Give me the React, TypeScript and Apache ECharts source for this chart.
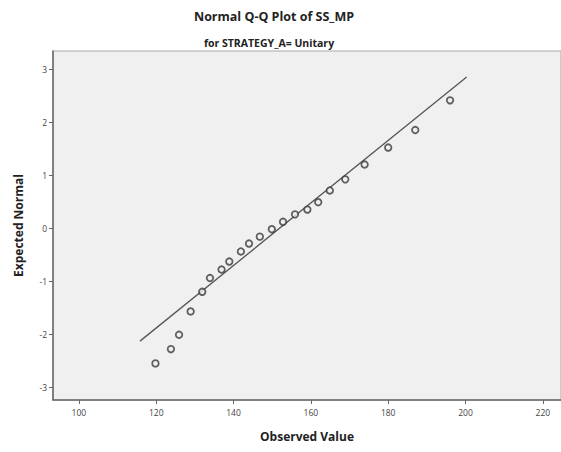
import React, { useEffect, useRef } from "react";
import * as echarts from "echarts";

const observedValues = [119.8, 123.8, 125.9, 128.9, 131.9, 133.9, 136.9, 138.9, 141.9, 144.0, 146.8, 149.9, 152.8, 155.9, 159.1, 161.9, 164.9, 168.9, 173.9, 180.0, 187.0, 196.0];
const expectedNormal = [-2.55, -2.28, -2.01, -1.57, -1.2, -0.94, -0.78, -0.63, -0.44, -0.29, -0.16, -0.02, 0.12, 0.26, 0.35, 0.49, 0.71, 0.92, 1.2, 1.52, 1.85, 2.41];
const refLineX = [115.8, 200.3];
const refLineY = [-2.13, 2.85];
const xTicks = [100, 120, 140, 160, 180, 200, 220];
const yTicks = [-3, -2, -1, 0, 1, 2, 3];

const FONT = "'Open Sans', 'DejaVu Sans', sans-serif";

export default function App() {
  const ref = useRef<HTMLDivElement>(null);
  useEffect(() => {
    if (!ref.current) return;
    const chart = echarts.init(ref.current, undefined, { renderer: "svg" });
    const points = observedValues.map((x, i) => [x, expectedNormal[i]]);
    const line = refLineX.map((x, i) => [x, refLineY[i]]);
    chart.setOption({
      animation: false,
      backgroundColor: "#ffffff",
      title: [
        {
          text: "Normal Q-Q Plot of SS_MP",
          left: 269,
          top: 5,
          textAlign: "center",
          textStyle: { fontFamily: FONT, fontWeight: "bold", fontSize: 12.5, color: "#222" },
        },
        {
          text: "for STRATEGY_A= Unitary",
          left: 264,
          top: 32,
          textAlign: "center",
          textStyle: { fontFamily: FONT, fontWeight: "bold", fontSize: 10.5, color: "#222" },
        },
      ],
      grid: {
        left: 53,
        top: 51,
        right: 0,
        bottom: 52,
        show: true,
        backgroundColor: "#f0f0f0",
        borderColor: "#a8a8a8",
        borderWidth: 1,
      },
      xAxis: {
        type: "value",
        min: 93.3,
        max: 224.7,
        name: "Observed Value",
        nameLocation: "middle",
        nameGap: 30,
        nameTextStyle: { fontFamily: FONT, fontWeight: "bold", fontSize: 12, color: "#222" },
        splitLine: { show: false },
        axisLine: { show: true, onZero: false, lineStyle: { color: "#666", width: 1.5 } },
        axisTick: { show: true, length: 4, customValues: xTicks, lineStyle: { color: "#666" } },
        axisLabel: { customValues: xTicks, fontFamily: FONT, fontSize: 8.5, color: "#444", margin: 8 },
      },
      yAxis: {
        type: "value",
        min: -3.24,
        max: 3.34,
        name: "Expected Normal",
        nameLocation: "middle",
        nameGap: 29,
        nameTextStyle: { fontFamily: FONT, fontWeight: "bold", fontSize: 12, color: "#222" },
        splitLine: { show: false },
        axisLine: { show: true, onZero: false, lineStyle: { color: "#666", width: 1.5 } },
        axisTick: { show: true, length: 4, customValues: yTicks, lineStyle: { color: "#666" } },
        axisLabel: { customValues: yTicks, fontFamily: FONT, fontSize: 8.5, color: "#444", margin: 6 },
      },
      series: [
        {
          type: "line",
          data: line,
          symbol: "none",
          lineStyle: { color: "#555", width: 1.3 },
          z: 2,
        },
        {
          type: "scatter",
          data: points,
          symbol: "circle",
          symbolSize: 6.5,
          itemStyle: { color: "#f0f0f0", borderColor: "#3a3a3a", borderWidth: 1.8 },
          z: 3,
        },
      ],
    });
    return () => chart.dispose();
  }, []);
  return (
    <div
      ref={ref}
      style={{ position: "fixed", left: 0, top: 0, width: 561, height: 452 }}
    />
  );
}
